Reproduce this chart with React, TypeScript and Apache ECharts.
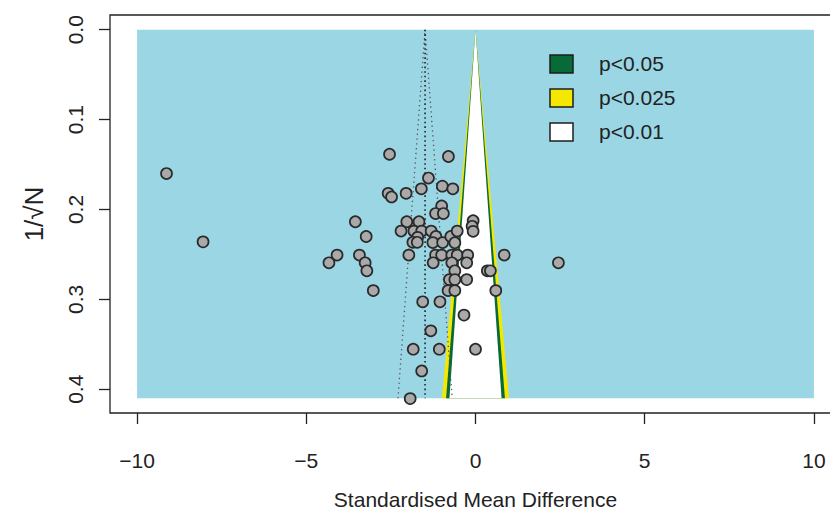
import React, { useEffect, useRef } from "react";
import * as echarts from "echarts";

// Standardised mean difference (x) and 1/sqrt(N) (y) for each study
const SMD = [
  -9.13, -8.05, -2.54, -2.58, -2.48, -2.05, -1.6, -1.39, -0.98, -0.67,
  -0.8, -1.0, -1.18, -0.95, -3.55, -3.23, -2.03, -1.67, -2.2, -1.82,
  -1.59, -1.31, -1.71, -1.85, -1.72, -1.17, -1.26, -0.97, -0.73, -0.54,
  -0.61, -0.07, -0.1, -0.07, -4.09, -4.33, -3.43, -3.26, -3.21, -3.02,
  -1.97, -1.18, -1.0, -0.7, -0.54, -0.23, 0.85, 2.45, -1.25, -0.7,
  -0.26, -0.61, 0.35, 0.44, -0.77, -0.61, -0.26, -0.81, -0.61, 0.6,
  -1.56, -1.05, -0.34, -1.32, -1.84, -1.07, 0.0, -1.59, -1.93,
];
const INV_SQRT_N = [
  0.16, 0.236, 0.1385, 0.182, 0.186, 0.182, 0.177, 0.165, 0.174, 0.177,
  0.141, 0.196, 0.2045, 0.2045, 0.2136, 0.23, 0.2136, 0.2136, 0.224, 0.224,
  0.224, 0.224, 0.231, 0.2365, 0.2365, 0.23, 0.2368, 0.2368, 0.23, 0.224,
  0.237, 0.2125, 0.2187, 0.2243, 0.2507, 0.2593, 0.2507, 0.2593, 0.2682, 0.2902,
  0.2507, 0.2507, 0.2507, 0.2507, 0.2507, 0.2507, 0.2507, 0.2593, 0.2593, 0.2593,
  0.2593, 0.2682, 0.2682, 0.2682, 0.278, 0.278, 0.278, 0.2902, 0.2902, 0.2902,
  0.3027, 0.3027, 0.3175, 0.335, 0.3554, 0.3554, 0.3554, 0.3796, 0.4104,
];

// Contour legend
const CONTOUR_LABELS = ["p<0.05", "p<0.025", "p<0.01"];
const CONTOUR_COLORS = ["#076A37", "#F4E800", "#FFFFFF"];
// Contour regions (drawn outermost first) and their funnel half-widths at the base
const REGION_HALF_WIDTH = [0.99, 0.87, 0.77];
const REGION_COLORS = ["#F4E800", "#076A37", "#FFFFFF"];
const FUNNEL_APEX = 0;
const FUNNEL_BASE_Y = 0.41;
const BG_RANGE_X = [-10, 10];
const BG_COLOR = "#9BD6E5";

// Pooled estimate dotted funnel
const POOLED = -1.49;
const POOLED_HALF_WIDTH = 0.8;

const X_TICKS = [-10, -5, 0, 5, 10];
const Y_TICKS = [0, 0.1, 0.2, 0.3, 0.4];

const FONT = "'Liberation Sans', Arial, Helvetica, sans-serif";

export default function App() {
  const ref = useRef<HTMLDivElement>(null);
  useEffect(() => {
    if (!ref.current) return;
    const chart = echarts.init(ref.current, null, { renderer: "svg" });
    const points = SMD.map((x, i) => [x, INV_SQRT_N[i]]);

    const legendY = [55, 89, 123];
    const legend: any[] = [];
    CONTOUR_LABELS.forEach((lab, i) => {
      legend.push({
        type: "rect",
        shape: { x: 550, y: legendY[i], width: 23, height: 18 },
        style: { fill: CONTOUR_COLORS[i], stroke: "#1e1e1e", lineWidth: 1.5 },
        z: 100,
      });
      legend.push({
        type: "text",
        x: 599,
        y: legendY[i] + 8,
        style: {
          text: lab,
          fill: "#222",
          font: `21px ${FONT}`,
          verticalAlign: "middle",
        },
        z: 100,
      });
    });

    chart.setOption({
      animation: false,
      backgroundColor: "#ffffff",
      textStyle: { fontFamily: FONT },
      grid: {
        left: 110,
        top: 15,
        width: 731,
        height: 398,
        show: true,
        borderColor: "#222",
        borderWidth: 1.3,
        backgroundColor: "transparent",
        containLabel: false,
        outerBoundsMode: "none",
      },
      xAxis: {
        type: "value",
        min: -10.8,
        max: 10.8,
        axisLine: { show: false, onZero: false },
        splitLine: { show: false },
        axisTick: {
          show: true,
          customValues: X_TICKS,
          length: 11,
          lineStyle: { color: "#222", width: 1.3 },
        },
        axisLabel: {
          customValues: X_TICKS,
          margin: 37,
          fontSize: 21,
          color: "#222",
          fontFamily: FONT,
          formatter: (v: number) => (v < 0 ? "\u2212" + Math.abs(v) : String(v)),
        },
        name: "Standardised Mean Difference",
        nameLocation: "middle",
        nameGap: 76,
        nameTextStyle: { fontSize: 21, color: "#222", fontFamily: FONT },
      },
      yAxis: {
        type: "value",
        inverse: true,
        min: -0.0164,
        max: 0.4264,
        axisLine: { show: false, onZero: false },
        splitLine: { show: false },
        axisTick: {
          show: true,
          customValues: Y_TICKS,
          length: 11,
          lineStyle: { color: "#222", width: 1.3 },
        },
        axisLabel: {
          customValues: Y_TICKS,
          rotate: 90,
          margin: 24,
          fontSize: 21,
          color: "#222",
          fontFamily: FONT,
          formatter: (v: number) => v.toFixed(1),
        },
        name: "1/\u221AN",
        nameLocation: "middle",
        nameGap: 63,
        nameRotate: 90,
        nameTextStyle: { fontSize: 26, color: "#222", fontFamily: FONT },
      },
      graphic: legend,
      series: [
        {
          type: "custom",
          z: 1,
          silent: true,
          data: [[BG_RANGE_X[0], 0, BG_RANGE_X[1], FUNNEL_BASE_Y]],
          renderItem: (params: any, api: any) => {
            const p0 = api.coord([api.value(0), api.value(1)]);
            const p1 = api.coord([api.value(2), api.value(3)]);
            return {
              type: "rect",
              shape: { x: p0[0], y: p0[1], width: p1[0] - p0[0], height: p1[1] - p0[1] },
              style: { fill: BG_COLOR, stroke: null, lineWidth: 0 },
            };
          },
        },
        {
          type: "custom",
          z: 2,
          silent: true,
          data: REGION_HALF_WIDTH.map((w, i) => [w, i]),
          renderItem: (params: any, api: any) => {
            const hw = api.value(0);
            const idx = api.value(1);
            const top = api.coord([FUNNEL_APEX, 0]);
            const bl = api.coord([FUNNEL_APEX - hw, FUNNEL_BASE_Y]);
            const br = api.coord([FUNNEL_APEX + hw, FUNNEL_BASE_Y]);
            return {
              type: "polygon",
              shape: { points: [top, bl, br] },
              style: { fill: REGION_COLORS[idx], stroke: null, lineWidth: 0 },
            };
          },
        },
        {
          type: "line",
          z: 3,
          silent: true,
          symbol: "none",
          data: [
            [POOLED - POOLED_HALF_WIDTH, FUNNEL_BASE_Y],
            [POOLED, 0],
            [POOLED + POOLED_HALF_WIDTH, FUNNEL_BASE_Y],
          ],
          lineStyle: { color: "#555", width: 1.3, type: [1.3, 3.5] },
        },
        {
          type: "line",
          z: 3,
          silent: true,
          symbol: "none",
          data: [
            [POOLED, 0],
            [POOLED, FUNNEL_BASE_Y],
          ],
          lineStyle: { color: "#222", width: 1.6, type: [1.6, 3] },
        },
        {
          type: "scatter",
          z: 4,
          symbol: "circle",
          symbolSize: 11,
          data: points,
          itemStyle: { color: "#A9A9A9", borderColor: "#2a2a2a", borderWidth: 1.7, opacity: 1 },
        },
      ],
    });
    return () => chart.dispose();
  }, []);

  return (
    <div
      ref={ref}
      style={{ position: "fixed", left: 0, top: 0, width: 830, height: 512 }}
    />
  );
}
